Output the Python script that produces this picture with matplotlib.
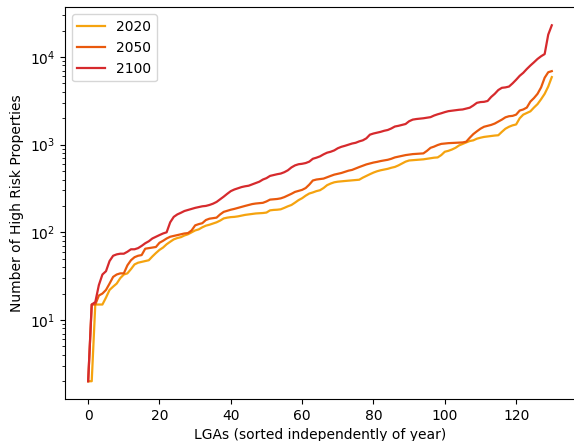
import matplotlib

matplotlib.use("Agg")
import matplotlib.pyplot as plt  # noqa: E402

# High risk property counts per LGA, each year sorted on its own.
YEARS = ["2020", "2050", "2100"]
COLORS = {"2020": "#F5A30F", "2050": "#E9590D", "2100": "#D62A2D"}

counts_2020 = [
    2, 2, 15, 15, 15, 18, 22, 24, 26, 30,
    33, 34, 38, 43, 45, 46, 47, 48, 53, 58,
    63, 67, 73, 78, 83, 86, 88, 92, 95, 100,
    105, 108, 114, 119, 122, 126, 130, 136, 144, 147,
    149, 150, 152, 155, 158, 160, 162, 164, 165, 166,
    168, 178, 180, 181, 183, 190, 198, 205, 218, 233,
    245, 262, 277, 285, 295, 302, 320, 345, 360, 372,
    378, 382, 385, 388, 390, 393, 398, 420, 440, 460,
    480, 497, 510, 520, 530, 545, 557, 580, 610, 640,
    660, 665, 670, 676, 680, 690, 700, 710, 715, 760,
    830, 850, 880, 920, 980, 1020, 1060, 1100, 1120, 1170,
    1200, 1225, 1240, 1255, 1270, 1280, 1400, 1520, 1600, 1660,
    1700, 2000, 2200, 2300, 2400, 2650, 2900, 3300, 3800, 4600,
    5900,
]

counts_2050 = [
    2, 15, 15, 19, 20, 22, 26, 31, 33, 34,
    34, 42, 48, 52, 54, 55, 65, 66, 67, 68,
    76, 80, 85, 89, 91, 93, 95, 97, 98, 105,
    120, 124, 127, 138, 143, 145, 147, 160, 171, 176,
    181, 185, 190, 195, 200, 205, 210, 213, 215, 217,
    225, 236, 238, 240, 244, 252, 263, 275, 289, 297,
    305, 320, 350, 390, 400, 405, 410, 425, 440, 455,
    465, 475, 490, 505, 515, 535, 555, 575, 595, 610,
    625, 636, 650, 660, 672, 690, 715, 730, 745, 760,
    770, 780, 785, 790, 795, 850, 920, 950, 990, 1020,
    1030, 1040, 1045, 1050, 1055, 1060, 1080, 1200, 1320, 1420,
    1520, 1600, 1640, 1680, 1740, 1830, 1930, 2050, 2110, 2130,
    2200, 2450, 2520, 2650, 3100, 3400, 3800, 4500, 5800, 6700,
    6900,
]

counts_2100 = [
    2, 15, 16, 25, 33, 36, 47, 54, 56, 57,
    57, 60, 64, 64, 66, 70, 75, 79, 85, 89,
    93, 97, 100, 130, 150, 160, 167, 175, 180, 185,
    190, 194, 198, 200, 205, 212, 222, 238, 255, 275,
    295, 308, 318, 328, 335, 340, 352, 365, 378, 400,
    415, 440, 450, 460, 468, 485, 510, 550, 580, 598,
    605, 617, 640, 690, 710, 735, 775, 810, 830, 860,
    910, 945, 970, 1000, 1030, 1050, 1090, 1120, 1180, 1300,
    1340, 1370, 1400, 1440, 1470, 1530, 1610, 1640, 1680, 1720,
    1850, 1930, 1960, 1980, 2000, 2030, 2060, 2150, 2220, 2280,
    2350, 2410, 2440, 2470, 2500, 2520, 2580, 2640, 2800, 3000,
    3060, 3080, 3150, 3500, 3800, 4200, 4450, 4500, 4600, 5000,
    5500, 6100, 6600, 7300, 8000, 8700, 9500, 10200, 10800, 18000,
    23000,
]

SERIES = {"2020": counts_2020, "2050": counts_2050, "2100": counts_2100}

fig = plt.figure(figsize=(5.74, 4.41), dpi=100)
ax = fig.add_axes([0.1132, 0.0952, 0.8885, 0.8878])

for year in YEARS:
    ys = SERIES[year]
    ax.plot(range(len(ys)), ys, color=COLORS[year], linewidth=1.6, label=year)

ax.set_yscale("log")
ax.set_xlabel("LGAs (sorted independently of year)")
ax.set_ylabel("Number of High Risk Properties")
# only the descenders of the title fall inside the cropped figure
ax.set_title("Rising High Risk Properties per LGA, 2020, 2050, 2100", pad=8)
ax.legend(loc="upper left")

fig.savefig("out.png", dpi=100)
